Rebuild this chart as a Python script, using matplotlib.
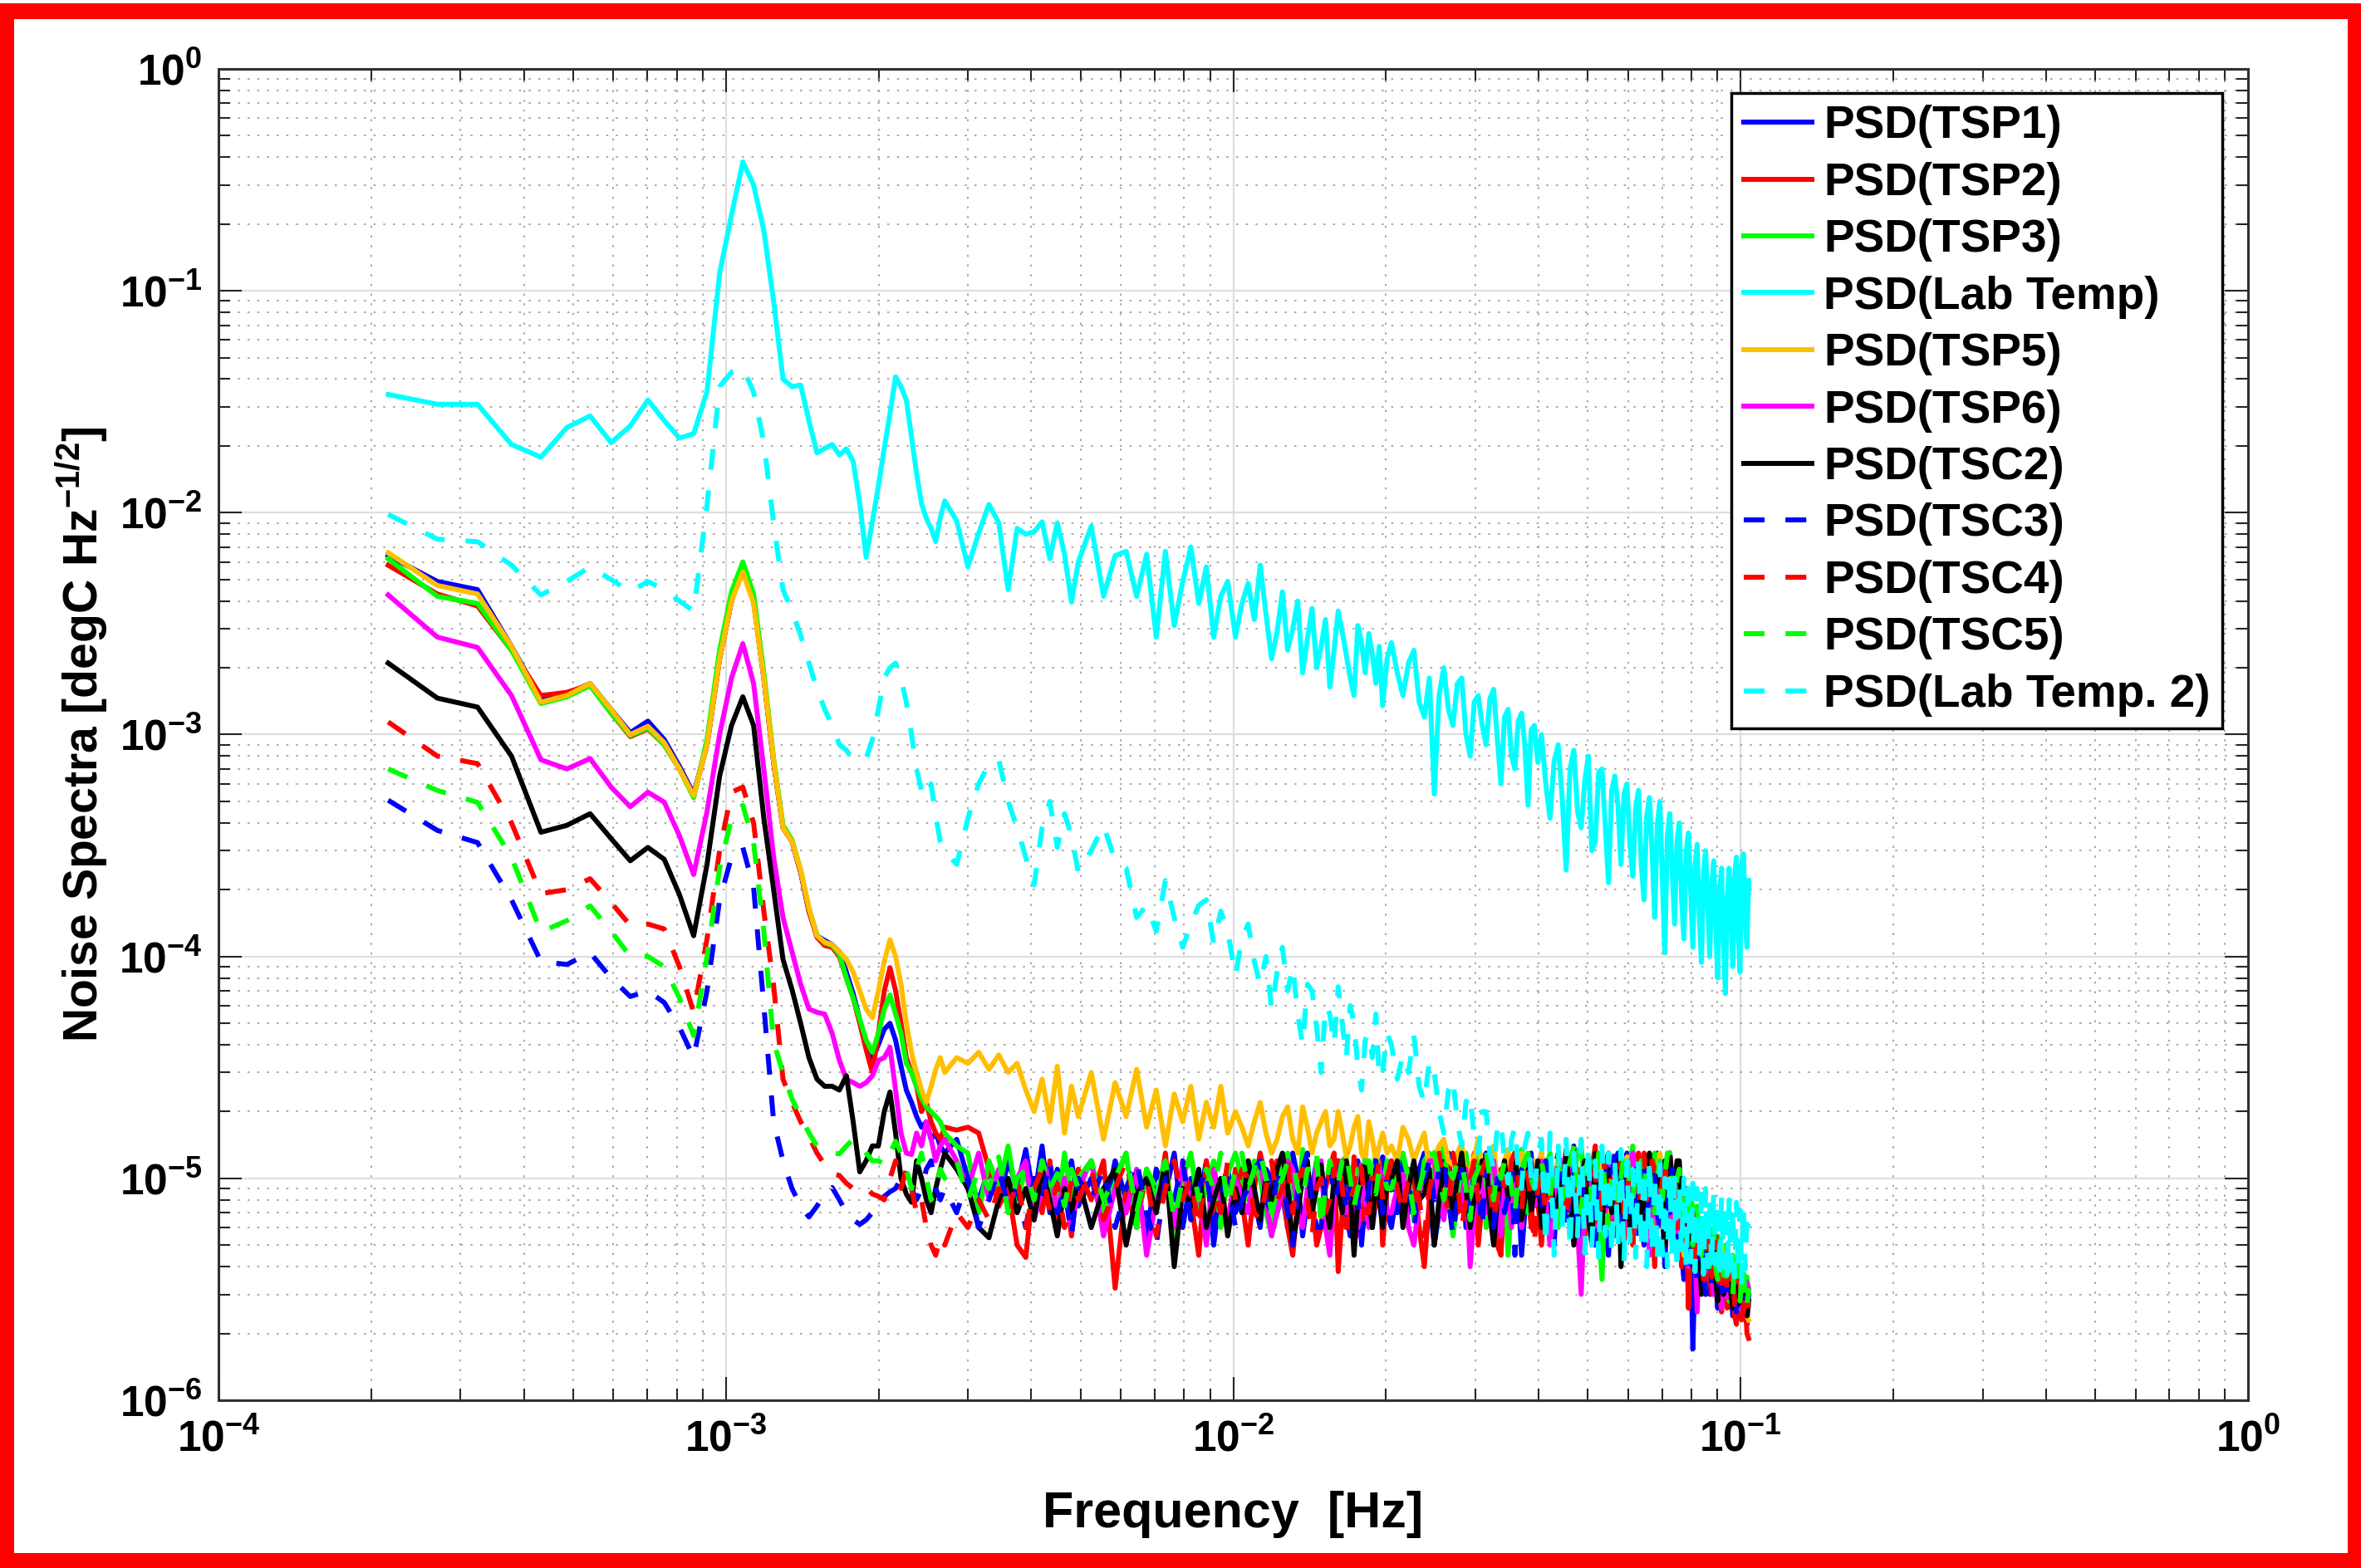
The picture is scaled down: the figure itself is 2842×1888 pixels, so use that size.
import numpy as np
import matplotlib
matplotlib.use('Agg')
import matplotlib.pyplot as plt
from matplotlib.patches import Rectangle
from matplotlib.ticker import LogLocator, FuncFormatter, NullFormatter

plt.rcParams['font.family'] = ['Liberation Sans', 'DejaVu Sans']
plt.rcParams['font.weight'] = 'bold'
plt.rcParams['mathtext.fontset'] = 'custom'
plt.rcParams['mathtext.rm'] = 'Liberation Sans:bold'
plt.rcParams['mathtext.bf'] = 'Liberation Sans:bold'
plt.rcParams['mathtext.default'] = 'bf'

# frequency bins [mHz]: coarse low end, then the noisy part
LOW_F_MHZ = [0.216, 0.270, 0.324, 0.378, 0.432, 0.486, 0.540, 0.594, 0.648, 0.702,
             0.756, 0.810, 0.864, 0.918, 0.972, 1.026, 1.080, 1.134, 1.188, 1.242,
             1.296, 1.350, 1.404, 1.458, 1.512, 1.566, 1.620, 1.674, 1.728, 1.782,
             1.836, 1.890, 1.944, 1.998, 2.052, 2.106, 2.160, 2.214, 2.268, 2.322,
             2.376, 2.430, 2.484, 2.538, 2.592, 2.646]
HIGH_F_MHZ = [2.7, 2.85, 3.0, 3.15, 3.3, 3.45, 3.6, 3.75, 3.9, 4.05, 4.2, 4.35, 4.5, 4.65, 4.8, 4.95,
              5.25, 5.55, 5.85, 6.15, 6.45, 6.75, 7.05, 7.35, 7.65, 7.95, 8.25, 8.55, 8.85, 9.15, 9.45, 9.75,
              10.1, 10.4, 10.7, 11.0, 11.3, 11.6, 11.9, 12.2, 12.5, 12.8, 13.1, 13.4, 13.7, 14.0, 14.3, 14.6,
              14.9, 15.2, 15.5, 15.8, 16.1, 16.4, 16.7, 17.0, 17.3, 17.6, 17.9, 18.2, 18.5, 18.8, 19.1, 19.4,
              19.7, 20.1,
              20.5, 21.05, 21.6, 22.15, 22.7, 23.25, 23.8, 24.35, 24.9, 25.45, 26.0, 26.55, 27.1, 27.65,
              28.2, 28.75, 29.3, 29.85, 30.4, 30.95, 31.5, 32.05, 32.6, 33.15, 33.7, 34.25, 34.8, 35.35,
              35.9, 36.45, 37.0, 37.55, 38.1, 38.65, 39.2, 39.85,
              40.5, 41.3, 42.1, 42.9, 43.7, 44.5, 45.3, 46.1, 46.9, 47.7, 48.5, 49.3, 50.1, 50.9, 51.7, 52.5,
              53.3, 54.1, 54.9, 55.7, 56.5, 57.3, 58.1, 58.9, 59.7, 60.5, 61.3, 62.1, 62.9, 63.7, 64.5, 65.3,
              66.1, 66.9, 67.7, 68.5, 69.3, 70.1, 70.9, 71.7, 72.5, 73.3, 74.1, 74.9, 75.7, 76.5, 77.3, 78.1,
              78.9, 79.7, 80.5, 81.3, 82.1, 82.9, 83.7, 84.5, 85.3, 86.1, 86.9, 87.7, 88.5, 89.3, 90.1, 90.9,
              91.7, 92.5, 93.3, 94.1, 94.9, 95.7, 96.5, 97.3, 98.1, 98.9, 99.7, 100.5, 101.3, 102.1, 102.9, 103.7]

# PSD values in micro degC/sqrt(Hz)
TSP1_LO = [6400, 4900, 4500, 2500, 1450, 1520, 1700, 1300, 1020, 1150,
           950, 720, 540, 900, 2200, 4000, 5700, 4000, 1800, 750,
           380, 330, 240, 160, 124, 118, 113, 105, 85, 68,
           52, 40, 35, 40, 47, 50, 42, 32, 25, 22,
           19, 17, 18, 15, 16, 14]
TSP1_HI = [13, 15, 10, 8, 11, 7.5, 12, 9, 13.5, 8, 14, 7, 11, 9, 12, 7.5,
           10, 6.5, 12, 8, 9.5, 5.5, 11, 8.5, 13, 6, 10, 7.5, 12, 5, 9, 11,
           7, 9, 12, 8, 6, 11, 10, 7, 8.5, 6, 13, 10, 5.5, 8, 9, 12, 11, 7, 6.5, 9,
           12, 10, 7, 5.5, 10, 12, 5, 8, 11.5, 6, 8, 10, 12.5, 7,
           6, 9, 10, 7, 8, 11, 13, 8, 5, 7, 11, 13, 7.5, 9, 12, 6, 6, 10, 9.5, 12,
           13, 8, 5.5, 9, 10, 6, 7, 11, 12, 9, 4.5, 7, 11, 13, 8, 10,
           13, 9, 6, 5, 11, 12, 8, 6.5, 14, 9, 5.5, 8, 10, 12, 7, 9, 12.5, 6, 4.5, 8,
           11, 13, 8.5, 5, 13, 9, 6, 11, 10, 7, 5, 9, 12, 6, 7.5, 13, 11, 7, 4, 8,
           9, 5, 6.5, 10, 8, 4.5, 3.5, 6, 7, 5, 1.7, 4, 6, 3.5, 4, 5, 5.5, 3.5, 3, 4,
           5, 3.5, 2.6, 3.8, 4.5, 2.8, 3.2, 4.2, 4, 3, 2.4, 3.3, 3.8, 2.5, 2.8, 3.4, 3.5, 2.6, 2.2, 3.0]

TSP2_LO = [5800, 4300, 3800, 2400, 1500, 1550, 1680, 1250, 980, 1060,
           900, 700, 530, 900, 2200, 4000, 5800, 4000, 1800, 750,
           380, 330, 240, 160, 122, 112, 110, 100, 80, 65,
           50, 38, 30, 45, 70, 89, 70, 50, 35, 30,
           26, 20, 22, 18, 16, 15]
TSP2_HI = [17, 16.5, 17, 16, 11, 7.5, 9, 5, 4.4, 10, 7, 12, 6, 9.5, 5.5, 11,
           8, 12, 3.2, 9, 6, 11, 7, 13, 5, 10, 8, 4.5, 12, 7, 9.5, 6,
           11, 8, 5, 9, 13, 10, 7, 12, 9, 6, 4.5, 8, 12, 10, 8, 5, 6, 9, 11, 13,
           3.8, 7, 9, 6, 12.5, 9, 6, 10, 10, 7, 7.5, 12, 5, 9,
           12, 9, 7, 11, 10, 6, 4, 8, 13, 10, 8, 12, 6, 9, 11, 7, 9, 13, 5, 8,
           12, 10, 7.5, 5, 4.5, 9, 10, 12, 13, 8, 6, 10, 9, 6, 11, 8,
           5, 9, 12, 6, 7, 10, 13.5, 8, 6, 11, 10, 5.5, 8, 11, 14, 7, 4.5, 9, 11, 6,
           7, 10, 12, 5, 9, 12, 5, 8, 13, 10, 6.5, 9, 11, 7, 4, 10, 12, 6, 8, 11,
           13, 9, 6, 8, 9, 4, 5, 7, 2.6, 5, 7, 4, 4.5, 6.5, 6, 3.5, 3, 4.5, 5.5, 3,
           3.5, 5, 4.5, 3, 2.5, 3.8, 4, 2.6, 2.8, 3.4, 3.6, 2.4, 2.2, 3, 3.2, 2.3, 2.5, 2.9, 2.0, 1.9]

TSP3_LO = [6200, 4200, 3900, 2400, 1380, 1480, 1660, 1250, 990, 1070,
           900, 700, 520, 950, 2400, 4400, 6000, 4300, 1900, 780,
           390, 335, 245, 165, 125, 115, 112, 102, 80, 65,
           52, 42, 37, 45, 58, 67, 55, 45, 33, 30,
           26, 23, 21, 20, 19, 18]
TSP3_HI = [16, 14, 13, 7, 12, 9, 14, 8, 11, 6.5, 12, 9, 7, 13, 8, 10,
           12, 7, 9.5, 13, 6, 11, 8, 12, 5.5, 10, 13, 7, 9, 12, 6, 10.5,
           13, 10, 8, 12, 10, 7, 5.5, 9, 12, 13, 9, 7, 13.5, 10, 7, 12, 11, 8, 4.8, 9,
           10, 12, 12.5, 9, 7.5, 11, 11, 8, 6, 10, 13, 11, 9, 12,
           11, 9, 13, 10, 6.5, 8, 12, 13, 9, 11, 14, 9, 5.5, 8, 11, 13, 8, 10,
           13, 11, 6, 9, 12.5, 10, 9, 12, 4.5, 8, 11, 9, 13.5, 11, 7, 10, 12, 9,
           9, 11, 13, 8, 6, 10, 12, 7, 10, 13, 14, 9, 7, 12, 11, 6, 3.5, 9, 13, 10,
           8, 11, 12, 7, 6.5, 12, 14, 8, 9, 12, 11, 7, 5, 10, 13, 9, 8, 11, 12, 7,
           6, 9, 11, 6, 7, 10, 9, 6, 5, 8, 7.5, 5, 4, 6, 6.5, 4.5, 3.5, 5, 6, 4,
           4, 4.8, 5.5, 3.5, 3, 4.2, 5, 3.6, 2.8, 3.8, 4.5, 3, 3.2, 4.2, 4, 2.9, 2.7, 3.4, 3.6, 3.0]

LAB_LO = [34100, 30800, 30800, 20300, 17800, 24200, 27300, 20700, 24600, 32200,
          26000, 21700, 22700, 35200, 120000, 220000, 381000, 300000, 187000, 90000,
          40000, 37000, 37600, 26000, 18600, 19500, 20300, 18200, 19400, 17000,
          11000, 6300, 9100, 13200, 19500, 28000, 41000, 37000, 32200, 22000,
          15000, 11000, 9400, 8500, 7400, 9500]
LAB_HI = [11300, 9200, 5700, 8100, 10900, 9000, 4500, 8500, 8000, 8200, 9100, 6200, 9000, 6500, 3950, 6000,
          8700, 4200, 6400, 6700, 4200, 6500, 2750, 6700, 3100, 4900, 7000, 3900, 5700, 2750, 4200, 4900,
          2750, 3900, 4800, 3300, 5800, 3500, 2200, 2900, 4400, 2400, 3000, 4000, 1900, 2700, 3700, 2000,
          2500, 3300, 1640, 2400, 3600, 2900, 2300, 1800, 1500, 3100, 2600, 1900, 2850, 2300, 1700, 2500,
          1350, 2200,
          2600, 1900, 1500, 2100, 2400, 1400, 1200, 1800, 540, 1500, 2000, 1300, 1100, 1700, 1800, 1000,
          800, 1400, 1500, 1100, 900, 1450, 1600, 950, 600, 1200, 1300, 800, 700, 1150, 1250, 900,
          480, 1050, 1100, 750,
          1000, 600, 420, 760, 900, 520, 245, 700, 850, 450, 380, 620, 800, 300, 330, 680, 700, 390, 215, 560,
          650, 480, 260, 540, 600, 320, 230, 470, 560, 260, 180, 430, 520, 300, 150, 390, 500, 220, 104, 350,
          440, 250, 140, 330, 400, 180, 120, 300, 360, 200, 110, 260, 320, 150, 94, 240, 300, 170, 100, 210,
          270, 140, 80, 200, 250, 120, 68, 180, 250, 160, 90, 230, 280, 130, 85, 260, 290, 150, 110, 220]

TSP5_LO = [6600, 4700, 4300, 2500, 1400, 1500, 1700, 1300, 1000, 1090,
           920, 700, 530, 900, 2200, 4000, 5400, 3900, 1800, 760,
           380, 330, 245, 165, 124, 116, 113, 105, 97, 85,
           70, 58, 53, 70, 95, 119, 100, 75, 50, 37,
           30, 25, 22, 26, 31, 35]
TSP5_HI = [30, 35, 33, 37, 31, 36, 30, 33, 25, 20, 28, 18, 32, 16, 26, 19,
           30, 15, 27, 19, 31, 17, 25, 14, 24, 18, 26, 15, 22, 17, 26, 16,
           20, 17, 14, 18, 22, 16, 13, 15, 19, 21, 15, 13, 21, 17, 13, 16, 18, 20, 14, 15,
           20, 16, 12.5, 14, 17, 19, 13, 12, 18, 15, 12, 14, 16, 13,
           14, 12, 17, 15, 12, 14, 16, 11, 12.5, 14, 15, 12, 11.5, 13, 14.5, 10, 11, 12.5,
           15, 11, 10.5, 12, 14, 9.5, 10, 12, 13.5, 10, 9.5, 11.5, 13, 10, 9, 11, 12, 10,
           13, 10, 8, 9.5, 12.5, 9, 7, 10, 12, 8.5, 7.5, 10, 11.5, 8, 6.5, 9, 12, 10, 7, 8,
           11, 9, 6, 8.5, 12.5, 10, 6.5, 9, 11, 7.5, 6, 9, 12, 8, 5.5, 10, 13, 9, 6, 7.5,
           10, 8, 5, 7, 9, 6, 4.5, 6.5, 8.5, 5.5, 4, 5.5, 7, 4.5, 3.3, 5, 6.5, 5, 3.8, 4.5,
           5.5, 4, 3.2, 4.2, 5, 3.6, 3, 3.8, 4.5, 3.4, 2.8, 3.5, 4, 3, 2.6, 3.2, 3.5, 2.7, 2.4, 2.3]

TSP6_LO = [4260, 2750, 2470, 1500, 770, 700, 780, 580, 473, 550,
           496, 350, 234, 450, 1000, 1800, 2570, 1700, 700, 280,
           150, 105, 75, 58, 56, 55, 45, 34, 28, 27,
           26, 27, 29, 34, 35, 39, 25, 16, 13, 12.8,
           16, 14, 18, 15, 12, 14]
TSP6_HI = [15, 12, 9, 13, 8, 11, 7.5, 10, 12, 6.5, 9, 11, 7, 10, 6, 9,
           12, 5.5, 9, 7, 11, 4.5, 8, 10, 6, 12, 7.5, 9, 5, 11, 8, 6.5,
           10, 8, 7, 11, 12, 8, 5.5, 7, 9, 12, 11, 7, 6, 9, 8.5, 11, 12, 6, 4.5, 8,
           10, 12, 7, 9, 9, 5.5, 11.5, 8, 6, 10, 8, 11, 10, 7,
           7, 9, 11, 6, 5, 8, 9.5, 12, 12, 8, 6.5, 10, 10, 7, 8, 11, 4, 7, 11, 9,
           7, 12, 12, 8, 5.5, 9, 9, 6, 11, 8, 6, 10, 10, 12, 7.5, 9,
           12, 8, 5, 7, 10, 12, 7, 9, 13, 6, 3, 8, 11, 9, 6, 10, 9, 7, 12, 9,
           5.5, 8, 10, 6, 7, 11, 13, 9, 6, 8, 9, 12, 4.5, 7, 11, 6, 8, 10, 12, 7,
           6, 9, 10, 6, 5, 7, 8, 5, 4, 6, 7, 4.5, 2.5, 5, 6, 4, 3.5, 4.8, 5.5, 3.6,
           3, 4.2, 5, 3.4, 2.6, 3.8, 4.5, 2.9, 3, 3.7, 4, 3, 2.5, 3.3, 3.6, 2.6, 2.8, 3.2, 3.4, 3.2]

TSC2_LO = [2100, 1460, 1330, 800, 363, 390, 440, 340, 270, 310,
           274, 190, 124, 260, 650, 1100, 1480, 1100, 420, 200,
           97, 71, 50, 35, 28, 26, 26, 25, 29, 18,
           10.7, 12, 14, 14, 20, 24.5, 16, 10, 8.5, 7.8,
           12, 10, 8, 7, 9, 11]
TSC2_HI = [13, 11, 9, 6, 5.4, 8, 10, 7, 9, 6.5, 11, 8, 5.5, 9, 7, 10,
           6, 9, 11, 5, 8.5, 10, 7, 12, 4, 9, 7.5, 11, 6, 8, 10, 5.5,
           9, 7, 12, 9, 6.5, 10, 8, 11, 13, 9, 5, 7, 10, 12, 7, 9, 11.5, 8, 6, 10,
           9, 7, 12, 9, 4.5, 8, 10, 12, 8, 6, 11, 8, 6, 10,
           10, 12, 6, 9, 12, 8, 8.5, 11, 5, 8, 11, 9, 7, 10, 13, 9, 6, 8,
           9, 12, 12, 7, 5, 8, 10, 12, 8, 11, 13, 9, 6.5, 8, 11, 7, 9, 12,
           6, 9, 11, 7, 8, 10, 12.5, 9, 5, 8, 10, 12, 7, 5, 13, 9, 6, 10, 11, 7,
           9, 12, 4, 8, 12, 6, 8, 11, 10, 7, 6, 10, 13, 8, 7.5, 11, 11, 8, 5, 9,
           13, 10, 9, 12, 12, 7, 6, 9, 8, 6, 4, 6, 7, 5, 3, 5, 6, 4.5, 4, 5.5,
           5, 3.5, 2.8, 4, 4.5, 3, 3.5, 4.2, 4, 3, 2.6, 3.4, 3.8, 2.7, 2.9, 3.5, 3.3, 2.6, 2.4, 2.8]

TSC3_LO = [506, 370, 326, 180, 95, 92, 104, 80, 66, 70,
           62, 48, 35, 70, 180, 280, 310, 205, 60, 18,
           12, 9, 7.5, 6.7, 7.5, 8.5, 9.1, 8, 7, 6.5,
           6.2, 6.5, 7, 7.8, 8.3, 8.7, 9, 10, 10, 9,
           8, 9, 11, 12, 9, 8]
TSC3_HI = [9, 7, 10, 6, 8, 11, 7.5, 9, 6, 10, 8, 12, 7, 9, 5.5, 10,
           8, 11, 6, 9, 12, 7, 5, 10, 8, 12, 6.5, 9, 11, 6, 8.5, 10,
           6, 8, 9, 11, 12, 8, 7, 10, 10, 7, 5, 9, 11, 13, 8, 6, 6, 10, 12, 8,
           9, 11, 7, 9, 10.5, 8, 5.5, 7, 9, 12, 12, 9, 7, 10,
           9, 7, 12, 10, 6, 9, 10, 12, 8, 11, 13, 8, 5.5, 8, 11, 9, 7, 11,
           9, 6, 12, 9, 6, 10, 10, 7, 8.5, 11, 4.5, 8, 11, 9, 9, 12, 12, 8,
           7, 12, 10, 7, 13, 9, 6, 8, 11, 6, 8, 11, 12, 8, 5, 9, 10, 12, 7.5, 10,
           13, 8, 6, 10, 9, 7, 11, 8, 5.5, 9, 12, 7, 8, 11, 10, 7, 6, 9, 12, 8,
           7, 11, 9.5, 6, 5, 7, 8, 5, 4, 6, 6.5, 4, 3.5, 5, 6, 4, 3, 4, 5, 3.2,
           3.5, 4.8, 4.5, 3, 2.8, 3.6, 4.2, 3, 3, 4, 3.8, 2.8, 2.5, 3.2, 3.5, 2.4, 2.6, 3.3, 3.2, 2.9]

TSC4_LO = [1140, 800, 740, 400, 192, 200, 224, 175, 138, 140,
           133, 90, 56, 120, 300, 550, 580, 400, 160, 74,
           28, 22, 18, 15.4, 13, 11.5, 10.5, 10.3, 9.5, 9,
           8.8, 9.1, 8.5, 8.3, 8, 10, 12, 9, 11, 9,
           7, 8, 6, 5, 4.5, 5.5]
TSC4_HI = [5, 7, 6, 8, 6.5, 9, 7, 10, 6, 9, 11, 7, 9.5, 6, 10, 8,
           11, 6.5, 9, 12, 7, 10, 5.5, 9, 12, 8, 10, 6, 11, 9, 7, 12,
           8, 11, 10, 7, 6.5, 9, 12, 8, 9, 12, 7, 10, 11, 8, 5.5, 9, 10, 7, 8, 11,
           12.5, 9, 6, 8, 9, 12, 11, 7, 7, 10, 10, 12, 8, 10,
           12, 9, 7, 10, 10, 8, 5.5, 9, 11, 13, 9, 7, 13, 10, 6, 8, 10, 12,
           8, 11, 12, 9, 6.5, 8, 11, 9, 9, 12, 13, 10, 7, 11, 10, 8, 5, 9,
           11, 7, 8, 11, 13, 9, 6.5, 9, 10, 7, 12, 9, 7, 10, 11, 6, 9, 12, 13, 8,
           5.5, 9, 12, 7, 8, 12, 10, 7, 6, 10, 13, 8, 9, 12, 11, 7, 7, 10, 12.5, 8,
           8, 11, 10, 6, 6, 8, 9, 5, 5, 7, 7, 4, 4, 6, 6.5, 3.5, 3.5, 5, 5.5, 3.6,
           4, 5.5, 5, 3, 3, 4.2, 4.5, 3, 3.2, 4.2, 4, 2.7, 2.8, 3.6, 3.5, 2.4, 2.5, 3.2, 3, 2.6]

TSC5_LO = [700, 560, 495, 280, 129, 145, 169, 130, 100, 100,
           90, 65, 44, 100, 250, 420, 480, 326, 130, 41,
           30, 22.8, 19, 16, 14, 13.5, 13, 12.9, 14, 15,
           14, 13, 12, 12, 11.5, 13, 14.7, 13, 11, 9,
           11, 13, 10, 8, 9, 11]
TSC5_HI = [10, 12, 8, 11, 9, 12.5, 7, 10, 11, 8, 12, 9, 10.5, 7.5, 11, 9,
           12, 8, 10, 13, 7, 11, 9, 12, 6.5, 10, 12.5, 8, 11, 9, 13, 7.5,
           11, 13, 9, 11, 13, 10, 7, 9, 10, 12, 12, 9, 8, 11, 11, 13, 6, 9, 12, 10,
           9.5, 12, 13, 10, 7.5, 9, 10, 12, 12, 9, 8.5, 11, 11, 9,
           9, 11, 12.5, 10, 7, 9, 11, 13, 13, 10, 8, 11, 10, 12, 12, 9, 6.5, 10,
           11, 13, 13.5, 10, 8, 11, 10, 12, 12, 9, 7, 10, 11, 12, 13, 10, 9, 11,
           12, 9, 8, 12, 13, 8, 10, 12, 14, 9, 7, 11, 12, 8, 9, 13, 13, 9, 6, 10,
           11, 8, 10, 13, 13.5, 9, 8, 11, 12, 8, 9, 12, 11, 8, 7, 10, 12, 8, 10, 13,
           13, 9, 8, 10, 11, 7, 6, 9, 9, 6, 5, 7, 7.5, 5, 4.5, 6, 6.5, 4, 4, 5.5,
           6, 4, 3.5, 5, 5.5, 3.6, 3.2, 4.5, 5, 3.5, 3, 4.2, 4.5, 3, 2.8, 3.6, 4, 2.8, 2.6, 3.2]

LAB2_LO = [9830, 7600, 7400, 5800, 4260, 4900, 5700, 5000, 4400, 4900,
           4500, 4000, 3600, 10800, 37000, 43000, 45000, 35000, 20700, 9000,
           4500, 3600, 2800, 2100, 1600, 1300, 1100, 900, 850, 770,
           770, 780, 950, 1300, 1800, 2000, 2100, 1800, 1400, 1000,
           700, 560, 520, 600, 430, 330]
LAB2_HI = [300, 260, 420, 600, 740, 770, 500, 380, 280, 210, 380, 500, 310, 440, 350, 240,
           300, 390, 270, 250, 150, 170, 130, 220, 150, 110, 140, 170, 180, 115, 160, 130,
           82, 120, 140, 95, 75, 100, 58, 85, 110, 70, 90, 55, 40, 75, 70, 48, 30, 60, 55, 40,
           73, 50, 35, 60, 50, 32, 25, 42, 45, 35, 55, 28, 30, 45,
           40, 28, 36, 30, 44, 26, 22, 34, 30, 20, 16, 25, 28, 18, 14, 22, 24, 15,
           13, 20, 20, 13, 11, 17, 18, 12, 9.5, 15, 17, 11, 9, 14, 16, 10, 8.5, 13,
           15, 5, 16, 4.5, 14, 6, 15, 4.8, 13, 5.5, 15, 4.6, 14, 5, 12, 4.4, 14, 5.5, 13, 4.5,
           12, 5, 13.5, 4.2, 12, 5.2, 11, 4.4, 12.5, 4.8, 11, 4, 12, 4.6, 10.5, 4.2, 11.5, 4.5, 10, 4,
           10.5, 4.4, 10, 3.8, 9.5, 4.5, 10, 4, 9, 4.2, 9.5, 3.8, 9, 4.3, 8.5, 3.7, 9, 4, 8, 3.8,
           8.5, 4.1, 8, 3.6, 8.2, 4, 7.8, 3.5, 8, 3.9, 7.5, 3.6, 7.8, 3.8, 7.2, 3.4, 7.5, 3.9, 7, 6]

freq = np.array(LOW_F_MHZ + HIGH_F_MHZ) * 1e-3

series = [
    ('PSD(TSP1)', TSP1_LO, TSP1_HI, '#0000ff', False),
    ('PSD(TSP2)', TSP2_LO, TSP2_HI, '#ff0000', False),
    ('PSD(TSP3)', TSP3_LO, TSP3_HI, '#00ff00', False),
    ('PSD(Lab Temp)', LAB_LO, LAB_HI, '#00ffff', False),
    ('PSD(TSP5)', TSP5_LO, TSP5_HI, '#ffbf00', False),
    ('PSD(TSP6)', TSP6_LO, TSP6_HI, '#ff00ff', False),
    ('PSD(TSC2)', TSC2_LO, TSC2_HI, '#000000', False),
    ('PSD(TSC3)', TSC3_LO, TSC3_HI, '#0000ff', True),
    ('PSD(TSC4)', TSC4_LO, TSC4_HI, '#ff0000', True),
    ('PSD(TSC5)', TSC5_LO, TSC5_HI, '#00ff00', True),
    ('PSD(Lab Temp. 2)', LAB2_LO, LAB2_HI, '#00ffff', True),
]

W, H = 2842, 1888
fig = plt.figure(figsize=(W / 100, H / 100), dpi=100)
ax = fig.add_axes([263 / W, 1 - 1686 / H, (2706 - 263) / W, (1686 - 83) / H])

for label, lo, hi, color, dashed in series:
    psd = np.array(lo + hi) * 1e-6
    if dashed:
        ax.loglog(freq, psd, color=color, lw=4.3, dashes=(4.2, 4.2), label=label)
    else:
        ax.loglog(freq, psd, color=color, lw=4.3, label=label)

ax.set_xlim(1e-4, 1)
ax.set_ylim(1e-6, 1)

fmt = FuncFormatter(lambda v, pos: r'$10^{%d}$' % int(round(np.log10(v))))
for axis in (ax.xaxis, ax.yaxis):
    axis.set_major_locator(LogLocator(base=10, numticks=20))
    axis.set_minor_locator(LogLocator(base=10, subs=np.arange(2, 10), numticks=20))
    axis.set_major_formatter(fmt)
    axis.set_minor_formatter(NullFormatter())

ax.set_axisbelow(True)
ax.grid(which='major', color='#dedede', lw=1.6, ls='-')
ax.grid(which='minor', color='#9a9a9a', lw=1.2, ls=(0, (1.5, 5.5)))
ax.tick_params(which='both', direction='in', top=True, right=True, color='#262626')
ax.tick_params(which='major', length=20, width=1.5, labelsize=37)
ax.tick_params(axis='x', which='major', pad=16)
ax.tick_params(axis='y', which='major', pad=14)
ax.tick_params(which='minor', length=10, width=1.5)
for sp in ax.spines.values():
    sp.set_color('#303030')
    sp.set_linewidth(2.2)

ax.set_xlabel('Frequency  [Hz]', fontsize=44, fontweight='bold', labelpad=26)
ax.set_ylabel(r'Noise Spectra [degC Hz$^{-1/2}$]', fontsize=41, fontweight='bold')
ax.yaxis.set_label_coords(-0.0535, 0.5)

leg = ax.legend(loc='upper right', bbox_to_anchor=(0.9873, 0.9819), borderaxespad=0,
                fontsize=39.5, handlelength=1.5, handletextpad=0.26, labelspacing=0.30,
                borderpad=0.26, fancybox=False, framealpha=1, edgecolor='black')
leg.get_frame().set_linewidth(2.5)
for t in leg.get_texts():
    t.set_fontweight('bold')

# red frame around the figure
red = '#ff0000'
for (x0, y0, x1, y1) in [(0, 4, 17, H), (2826, 4, W, H), (0, 4, W, 23), (0, 1870, W, H)]:
    fig.add_artist(Rectangle((x0 / W, 1 - y1 / H), (x1 - x0) / W, (y1 - y0) / H,
                             transform=fig.transFigure, color=red, lw=0, zorder=10))

fig.savefig('out.png', dpi=100)
